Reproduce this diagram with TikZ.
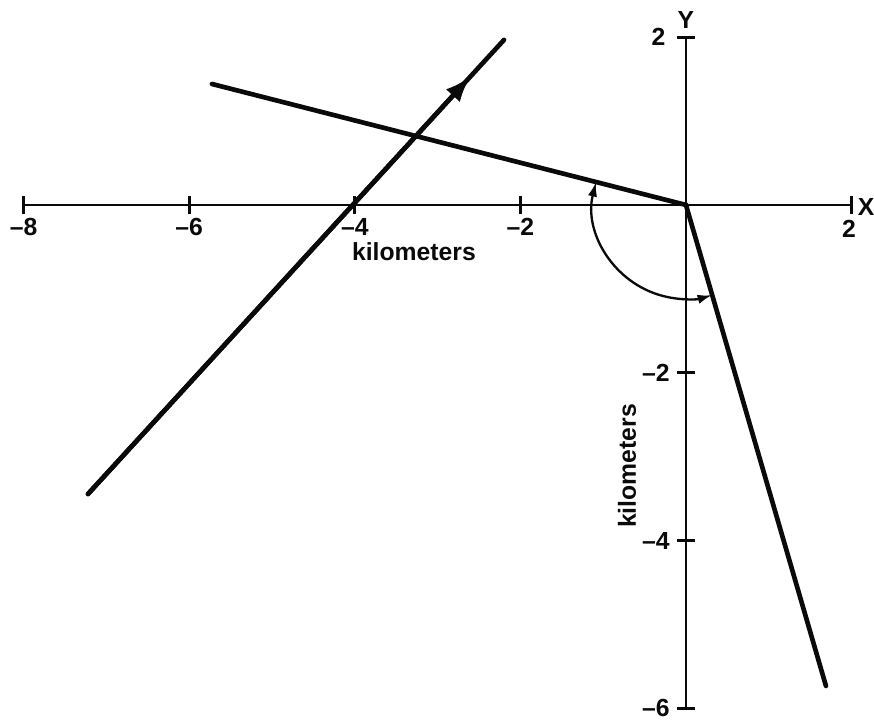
\documentclass[tikz,border=0pt]{standalone}
\usepackage{fontspec}
\setsansfont{Liberation Sans}
\usetikzlibrary{arrows.meta,calc}
\definecolor{cInk}{HTML}{0A0A0A}
\tikzset{
  font=\sffamily\bfseries,
  axis/.style={line width=1pt, draw=cInk},
  tickmark/.style={line width=1pt, draw=cInk},
  track/.style={line width=1.6pt, draw=cInk, line cap=round},
  turn/.style={{Latex[length=5pt,width=3.2pt]}-{Latex[length=5pt,width=3.2pt]}, line width=0.8pt, draw=cInk},
  lbl/.style={font=\sffamily\bfseries\fontsize{8.5}{10}\selectfont, text=cInk, inner sep=0pt},
}
\begin{document}
\begin{tikzpicture}[x=1cm, y=1.0133cm]
\useasboundingbox (-8.285,-6.198) rectangle (2.271,2.443);
% axes
\coordinate (O) at (0,0);
\coordinate (xL) at (-8,0); \coordinate (xR) at (2,0);
\coordinate (yT) at (0,2); \coordinate (yB) at (0,-6);
\draw[axis] (xL) -- (xR);
\draw[axis] (yB) -- (yT);
\foreach \x in {-8,-6,-4,-2,2} \draw[tickmark] (\x,-0.11) -- (\x,0.11);
\foreach \y in {-6,-4,-2,2} \draw[tickmark] (-0.11,\y) -- (0.11,\y);
\foreach \x in {-8,-6,-4,-2} \node[lbl] (xl\x) at (\x,-0.26) {\textendash\the\numexpr-\x\relax};
\node[lbl] (xl2) at (1.97,-0.28) {2};
\node[lbl] (xn) at (2.175,-0.02) {X};
\foreach \y in {-6,-4,-2} \node[lbl, anchor=east] (yl\y) at (-0.19,\y) {\textendash\the\numexpr-\y\relax};
\node[lbl, anchor=east] (yl2) at (-0.24,2.0) {2};
\node[lbl] (yn) at (0,2.205) {Y};
\node[lbl] (kmx) at (-3.285,-0.56) {kilometers};
\node[lbl, rotate=90] (kmy) at (-0.713,-3.111) {kilometers};
% tracks
\coordinate (trkA) at (-7.222,-3.445);
\coordinate (trkB) at (-2.198,1.967);
\coordinate (trkM) at ($(trkA)!0.92!(trkB)$);
\draw[track] (trkA) -- (trkB);
\draw[track, -{Latex[length=9pt,width=6.5pt]}] (trkA) -- (trkM);
\coordinate (lnA) at (-5.725,1.442);
\coordinate (lnC) at (1.691,-5.733);
\draw[track] (lnA) -- (O) -- (lnC);
% turn angle
\draw[turn] (165.9:1.12) arc[start angle=165.9, end angle=286.4, radius=1.12];
\end{tikzpicture}
\end{document}
